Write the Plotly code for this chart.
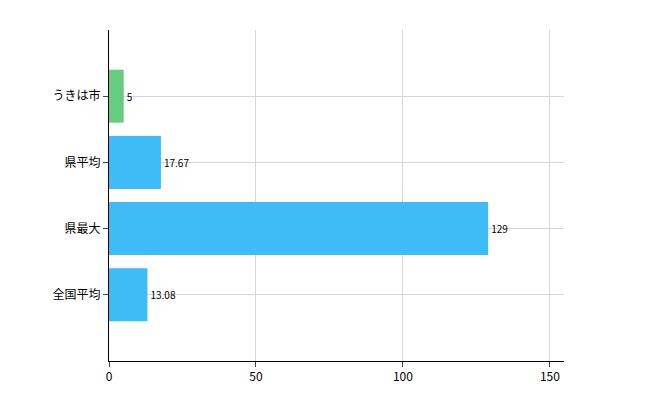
import plotly.graph_objects as go

categories = ["全国平均", "県最大", "県平均", "うきは市"]
values = [13.08, 129, 17.67, 5]
labels = ["13.08", "129", "17.67", "5"]
colors = ["#3fbcf8", "#3fbcf8", "#3fbcf8", "#66cc80"]

fig = go.Figure()
fig.add_trace(go.Bar(
    y=list(range(len(categories))), x=values, orientation="h",
    marker=dict(color=colors, line=dict(width=0)),
    width=0.8, text=labels, textposition="outside",
    textfont=dict(size=10, color="black"), cliponaxis=False,
))
fig.update_layout(
    width=650, height=400, plot_bgcolor="white", paper_bgcolor="white",
    margin=dict(l=101, r=94, t=22, b=47, pad=0),
    font=dict(family="Noto Sans CJK JP", size=12, color="black"),
    showlegend=False,
)
fig.update_xaxes(range=[0, 154.8], tickvals=[0, 50, 100, 150], showgrid=True,
                 gridcolor="#d3d7dc", showline=True, linecolor="black",
                 ticks="outside", ticklen=5, zeroline=False, automargin=False)
fig.update_yaxes(range=[-1, 4], tickvals=list(range(len(categories))), ticktext=categories,
                 showgrid=True, gridcolor="#d3d7dc", showline=True, linecolor="black",
                 ticks="outside", ticklen=5, zeroline=False, automargin=False)
fig.write_html("out.html")
